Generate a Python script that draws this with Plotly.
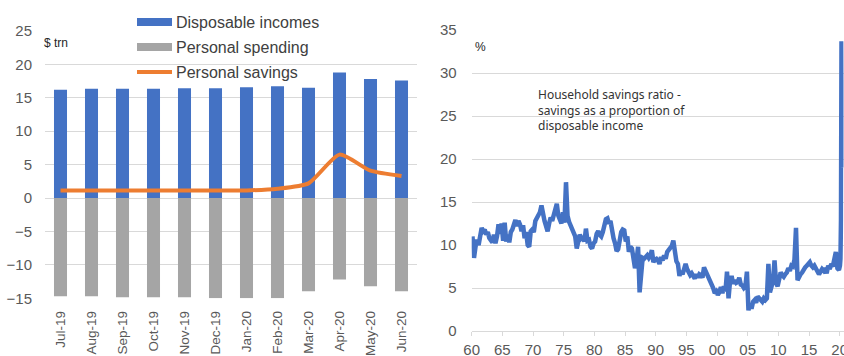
import plotly.graph_objects as go

# ---- Left panel: monthly household income, spending and savings ($ trn, annualised)
months = ["Jul-19", "Aug-19", "Sep-19", "Oct-19", "Nov-19", "Dec-19",
          "Jan-20", "Feb-20", "Mar-20", "Apr-20", "May-20", "Jun-20"]
disposable_incomes = [16.2, 16.35, 16.35, 16.35, 16.45, 16.45,
                      16.6, 16.75, 16.5, 18.8, 17.8, 17.6]
personal_spending = [-14.7, -14.7, -14.85, -14.85, -14.85, -15.0,
                     -15.0, -15.0, -13.95, -12.2, -13.2, -13.95]
personal_savings = [1.15, 1.15, 1.15, 1.15, 1.15, 1.15,
                    1.15, 1.4, 2.2, 6.5, 4.1, 3.3]
left_yticks = [-15, -10, -5, 0, 5, 10, 15, 20, 25]

# ---- Right panel: household savings ratio (%), quarterly 1960-2019, monthly H1 2020
ratio_start_year = 1960
savings_ratio_quarterly = [
    11.0, 8.5, 9.8, 10.6,    # 1960
    10.0, 11.0, 12.0, 11.6,  # 1961
    11.8, 11.2, 11.5, 10.8,  # 1962
    10.6, 10.3, 11.2, 10.2,  # 1963
    11.0, 12.4, 11.3, 12.5,  # 1964
    10.5, 12.6, 10.4, 11.2,  # 1965
    10.3, 11.5, 11.8, 12.6,  # 1966
    12.9, 12.2, 12.8, 12.4,  # 1967
    11.6, 12.3, 10.8, 11.5,  # 1968
    10.0, 9.8, 11.6, 11.8,   # 1969
    11.5, 12.8, 13.2, 13.4,  # 1970
    13.8, 14.6, 13.5, 12.8,  # 1971
    12.2, 11.6, 12.5, 13.2,  # 1972
    12.8, 13.5, 13.9, 14.8,  # 1973
    13.4, 12.8, 12.5, 13.8,  # 1974
    12.6, 17.3, 13.4, 12.7,  # 1975
    12.3, 12.0, 11.4, 11.0,  # 1976
    9.6, 10.5, 11.2, 10.8,   # 1977
    11.0, 10.4, 11.9, 10.5,  # 1978
    10.6, 9.8, 9.6, 10.2,    # 1979
    10.4, 11.3, 11.6, 11.2,  # 1980
    11.0, 11.5, 12.6, 13.0,  # 1981
    13.1, 12.5, 12.8, 11.5,  # 1982
    10.8, 10.2, 9.3, 9.5,    # 1983
    10.8, 11.5, 11.8, 11.7,  # 1984
    10.4, 11.0, 9.2, 9.8,    # 1985
    9.6, 8.4, 7.3, 8.1,      # 1986
    9.8, 4.5, 7.2, 8.5,      # 1987
    8.4, 8.6, 8.8, 8.5,      # 1988
    8.8, 9.4, 8.0, 8.3,      # 1989
    8.4, 8.2, 7.8, 8.6,      # 1990
    8.2, 8.8, 8.4, 9.2,      # 1991
    9.5, 9.8, 9.9, 10.5,     # 1992
    8.8, 8.1, 7.8, 6.4,      # 1993
    7.0, 6.6, 7.2, 7.8,      # 1994
    7.2, 6.8, 6.5, 6.7,      # 1995
    6.4, 6.1, 6.6, 6.2,      # 1996
    6.6, 6.5, 6.2, 7.4,      # 1997
    7.0, 6.6, 6.3, 6.0,      # 1998
    5.4, 5.0, 4.4, 4.6,      # 1999
    4.2, 4.5, 5.1, 4.4,      # 2000
    5.2, 4.6, 6.9, 3.8,      # 2001
    5.8, 6.4, 5.5, 5.9,      # 2002
    5.6, 5.7, 6.2, 5.4,      # 2003
    5.3, 5.0, 5.2, 6.9,      # 2004
    2.4, 3.2, 2.6, 3.4,      # 2005
    3.6, 3.3, 4.0, 3.8,      # 2006
    3.7, 3.4, 3.8, 3.6,      # 2007
    3.8, 7.8, 4.5, 5.4,      # 2008
    5.8, 8.2, 5.6, 5.2,      # 2009
    6.2, 6.8, 6.5, 6.3,      # 2010
    6.6, 6.8, 7.3, 7.0,      # 2011
    7.6, 7.5, 8.3, 12.0,     # 2012
    5.9, 6.4, 6.6, 6.8,      # 2013
    7.2, 7.4, 7.6, 7.8,      # 2014
    8.0, 7.6, 7.4, 7.6,      # 2015
    7.2, 7.0, 6.6, 6.9,      # 2016
    7.2, 7.0, 7.3, 6.7,      # 2017
    7.6, 7.2, 7.8, 7.5,      # 2018
    8.2, 9.2, 7.3, 7.1,      # 2019
]
savings_ratio_2020_monthly = [7.6, 8.4, 12.9, 33.7, 24.2, 19.0]  # Jan-Jun 2020
right_xtick_years = [1960, 1965, 1970, 1975, 1980, 1985, 1990,
                     1995, 2000, 2005, 2010, 2015, 2020]
right_xtick_labels = ["60", "65", "70", "75", "80", "85", "90",
                      "95", "00", "05", "10", "15", "20"]
right_yticks = [0, 5, 10, 15, 20, 25, 30, 35]

# decimal-year positions (mid-quarter, then mid-month for 2020)
ratio_x = [ratio_start_year + i / 4 + 0.125 for i in range(len(savings_ratio_quarterly))]
ratio_x += [2020 + (m + 0.5) / 12 for m in range(len(savings_ratio_2020_monthly))]
ratio_y = savings_ratio_quarterly + savings_ratio_2020_monthly

BLUE = "#4472C4"
GREY = "#A5A5A5"
ORANGE = "#ED7D31"
GRID = "#D9D9D9"
TICK = "#595959"
FONT = "Liberation Sans"

W, H = 844, 356


def px(x):
    return x / W


def py(y):
    return 1 - y / H


fig = go.Figure()

fig.add_trace(go.Bar(x=months, y=disposable_incomes, name="Disposable incomes",
                     marker=dict(color=BLUE, line=dict(width=0)),
                     xaxis="x", yaxis="y"))
fig.add_trace(go.Bar(x=months, y=personal_spending, name="Personal spending",
                     marker=dict(color=GREY, line=dict(width=0)),
                     xaxis="x", yaxis="y"))
fig.add_trace(go.Scatter(x=months, y=personal_savings, name="Personal savings",
                         mode="lines", line=dict(color=ORANGE, width=4, shape="spline",
                                                 smoothing=0.6),
                         xaxis="x", yaxis="y"))

fig.add_trace(go.Scatter(x=ratio_x, y=ratio_y, name="Household savings ratio",
                         mode="lines", line=dict(color=BLUE, width=4.5),
                         xaxis="x2", yaxis="y2"))

tickfont = dict(family=FONT, size=15, color=TICK)

fig.update_layout(
    width=W, height=H,
    margin=dict(l=0, r=0, t=0, b=0, autoexpand=False),
    paper_bgcolor="white", plot_bgcolor="white",
    showlegend=False,
    barmode="relative",
    bargap=0.58,
    font=dict(family=FONT, color="#404040"),
    xaxis=dict(domain=[px(45), px(417)], type="category",
               range=[-0.5, len(months) - 0.5],
               tickangle=-90, tickfont=dict(family=FONT, size=13.5, color=TICK),
               showgrid=False, showline=False, ticks="", ticklabelstandoff=9,
               automargin=False, ticklabeloverflow="allow",
               anchor="y", fixedrange=True),
    yaxis=dict(domain=[py(298.3), py(31)], range=[-15, 25],
               tickvals=left_yticks, tickfont=tickfont,
               showgrid=True, gridcolor=GRID, gridwidth=1.3,
               zeroline=False, showline=False, ticks="",
               ticklabelstandoff=12, automargin=False, anchor="x"),
    xaxis2=dict(domain=[px(471.7), px(843.5)], range=[1960, 2020.62],
                tickvals=right_xtick_years, ticktext=right_xtick_labels,
                tickfont=tickfont, showgrid=False, showline=True,
                linecolor=GRID, linewidth=1.3, ticks="outside", ticklen=4,
                tickcolor=GRID, ticklabelstandoff=1, automargin=False,
                ticklabeloverflow="allow", anchor="y2"),
    yaxis2=dict(domain=[py(331), py(30)], range=[0, 35],
                tickvals=right_yticks, tickfont=tickfont,
                showgrid=True, gridcolor=GRID, gridwidth=1.3,
                zeroline=False, showline=False, ticks="",
                ticklabelstandoff=14, automargin=False, anchor="x2"),
)

# Legend for the left panel, laid out as stacked rows above the bars
legend_rows = [
    ("Disposable incomes", BLUE, "bar", 22),
    ("Personal spending", GREY, "bar", 47),
    ("Personal savings", ORANGE, "line", 72),
]
shapes = []
annotations = []
for label, color, kind, yc in legend_rows:
    if kind == "bar":
        shapes.append(dict(type="rect", xref="paper", yref="paper",
                           x0=px(137), x1=px(172), y0=py(yc + 4), y1=py(yc - 4),
                           fillcolor=color, line=dict(width=0)))
    else:
        shapes.append(dict(type="line", xref="paper", yref="paper",
                           x0=px(137), x1=px(172), y0=py(yc), y1=py(yc),
                           line=dict(color=color, width=4)))
    annotations.append(dict(text=label, xref="paper", yref="paper",
                            x=px(174), y=py(yc), xanchor="left", yanchor="middle",
                            showarrow=False,
                            font=dict(family=FONT, size=16, color="#404040")))

annotations.append(dict(text="$ trn", xref="paper", yref="paper",
                        x=px(42), y=py(43), xanchor="left", yanchor="middle",
                        showarrow=False, font=dict(family=FONT, size=12, color="#262626")))
annotations.append(dict(text="%", xref="paper", yref="paper",
                        x=px(473), y=py(47), xanchor="left", yanchor="middle",
                        showarrow=False, font=dict(family=FONT, size=12, color="#262626")))
annotations.append(dict(text="Household savings ratio -<br>savings as a proportion of<br>disposable income",
                        xref="paper", yref="paper", x=px(536), y=py(84),
                        xanchor="left", yanchor="top", align="left", showarrow=False,
                        font=dict(family="Noto Sans", size=12, color="#333333")))

fig.update_layout(shapes=shapes, annotations=annotations)

fig.write_html("out.html")
